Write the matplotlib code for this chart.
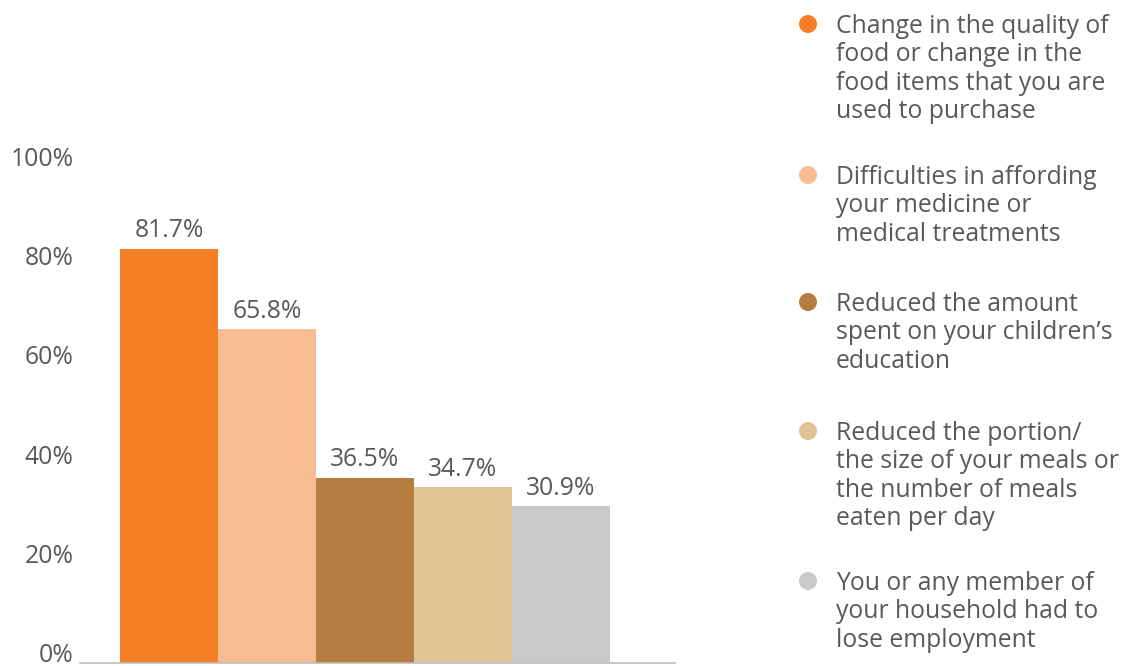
import matplotlib
matplotlib.use("Agg")
import matplotlib.pyplot as plt
from matplotlib.patches import Ellipse
from matplotlib.transforms import ScaledTranslation

plt.rcParams['font.family'] = ['Open Sans', 'DejaVu Sans']

# survey results, share of respondents
categories = [
    "Change in the quality of\nfood or change in the\nfood items that you are\nused to purchase",
    "Difficulties in affording\nyour medicine or\nmedical treatments",
    "Reduced the amount\nspent on your children\u2019s\neducation",
    "Reduced the portion/\nthe size of your meals or\nthe number of meals\neaten per day",
    "You or any member of\nyour household had to\nlose employment",
]
values = [81.7, 65.8, 36.5, 34.7, 30.9]
colors = ["#F47F24", "#F7BC91", "#B57D40", "#E0C495", "#C9C9C9"]
yticks = [0, 20, 40, 60, 80, 100]

W, H = 1132, 666
FS = 17.8
text_color = "#595959"

fig = plt.figure(figsize=(W / 100, H / 100), dpi=100)
ax = fig.add_axes([80 / W, 3 / H, 595 / W, 507 / H])

xs = range(len(values))
bars = ax.bar(xs, values, width=1.0, color=colors, linewidth=0)
for b, v in zip(bars, values):
    ax.annotate(f"{v}%", (b.get_x() + b.get_width() / 2, v),
                xytext=(0, 4), textcoords="offset points",
                ha="center", va="bottom", fontsize=FS, color=text_color)

ax.set_xlim(-0.908, 5.163)
ax.set_ylim(0, 100)
ax.set_yticks(yticks)
ax.set_yticklabels([f"{t}%" for t in yticks])
ax.tick_params(axis="y", length=0, pad=4.5, labelsize=FS, labelcolor=text_color)
# nudge the lower labels up a little so "0%" sits above the baseline
for t, lab in zip(yticks, ax.get_yticklabels()):
    dy = (10 - 10 * t / 100) / 100
    lab.set_transform(lab.get_transform() + ScaledTranslation(0, dy, fig.dpi_scale_trans))
ax.set_xticks([])
for side in ["top", "right", "left"]:
    ax.spines[side].set_visible(False)
ax.spines["bottom"].set_color("#BDBDBD")
ax.spines["bottom"].set_linewidth(1.2)
ax.set_facecolor("none")

# legend on the right: dot + label lines, positions in pixels from the top
first_baselines = [33, 184, 311, 440, 590]
line_step = 28.4
for label, c, y0 in zip(categories, colors, first_baselines):
    fig.patches.append(Ellipse((808 / W, 1 - (y0 - 9) / H), 18 / W, 18 / H,
                               transform=fig.transFigure, color=c, linewidth=0))
    for i, line in enumerate(label.split("\n")):
        fig.text(836 / W, 1 - (y0 + i * line_step) / H, line, ha="left", va="baseline",
                 fontsize=FS, color=text_color)

fig.savefig("out.png", dpi=100)
